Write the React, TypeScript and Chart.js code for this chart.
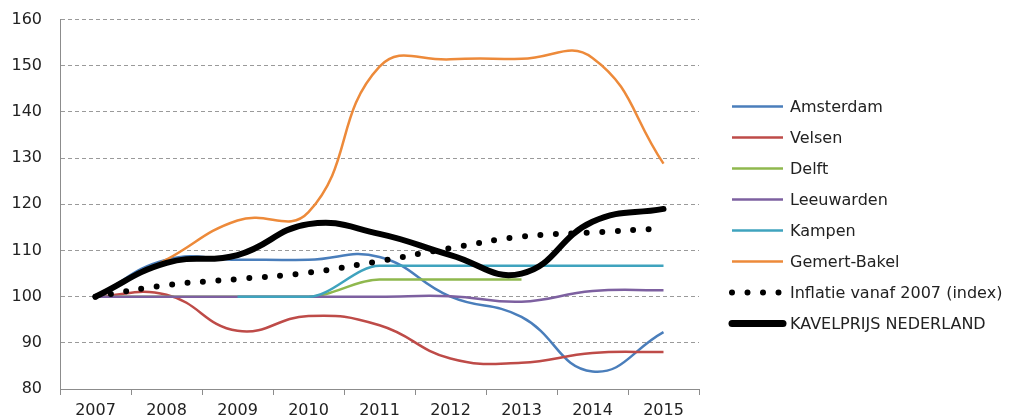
import React, { useEffect, useRef } from "react";
import { Chart, registerables, ChartConfiguration, Plugin } from "chart.js";

Chart.register(...registerables);

const years = ["2007", "2008", "2009", "2010", "2011", "2012", "2013", "2014", "2015"];

const amsterdam = [100, 108, 108, 108, 108.6, 100, 95.6, 83.8, 92.3];
const velsen = [100, 100.4, 92.6, 95.8, 93.8, 86.6, 85.7, 87.8, 88];
const delft = [100, 100, 100, 100, 103.7, 103.7, 103.7, null, null];
const leeuwarden = [100, 100, 100, 100, 100, 100.1, 98.9, 101.2, 101.4];
const kampen = [null, null, 100, 100, 106.7, 106.7, 106.7, 106.7, 106.7];
const gemertBakel = [100, 108, 116.5, 118.3, 149.8, 151.4, 151.5, 151.7, 128.8];
const inflatie = [100, 102.5, 103.8, 105.2, 107.7, 110.5, 113, 113.9, 114.8];
const kavelprijs = [100, 107.3, 109, 115.7, 113.6, 109, 105, 116.2, 119];

const yTicks = [80, 90, 100, 110, 120, 130, 140, 150, 160];

const FONT = "'DejaVu Sans', Verdana, sans-serif";

// legenda rechts, zoals in Excel (lijnstukje + tekst)
const sideLegend: Plugin<"line"> = {
  id: "sideLegend",
  afterDraw(chart) {
    const { ctx, chartArea } = chart;
    const x0 = chartArea.right + 33;
    const y0 = chartArea.top + 87;
    const row = 31;
    chart.data.datasets.forEach((ds: any, i) => {
      const y = y0 + i * row;
      ctx.save();
      ctx.strokeStyle = ds.borderColor;
      ctx.lineWidth = ds.legendWidth ?? ds.borderWidth;
      ctx.lineCap = ds.borderCapStyle ?? "butt";
      ctx.setLineDash(ds.borderDash ?? []);
      ctx.beginPath();
      ctx.moveTo(x0, y);
      ctx.lineTo(x0 + 51, y);
      ctx.stroke();
      ctx.setLineDash([]);
      ctx.fillStyle = "#222";
      ctx.font = `16px ${FONT}`;
      ctx.textBaseline = "middle";
      ctx.fillText(ds.label, x0 + 58, y + 1);
      ctx.restore();
    });
  },
};

export default function App() {
  const chartRef = useRef<HTMLCanvasElement | null>(null);

  useEffect(() => {
    document.body.style.margin = "0";
    if (!chartRef.current) return;
    const ctx = chartRef.current.getContext("2d");
    if (!ctx) return;

    const n = 8;
    const line = (label: string, data: (number | null)[], color: string, i: number, extra: any = {}) => ({
      label,
      data,
      borderColor: color,
      backgroundColor: color,
      borderWidth: 2.5,
      pointRadius: 0,
      fill: false,
      tension: 0.45,
      order: n - i,
      ...extra,
    });

    const config: ChartConfiguration<"line"> = {
      type: "line",
      data: {
        labels: years,
        datasets: [
          line("Amsterdam", amsterdam, "#4a7ebb", 0),
          line("Velsen", velsen, "#be4b48", 1),
          line("Delft", delft, "#8fb84e", 2, { cubicInterpolationMode: "monotone" }),
          line("Leeuwarden", leeuwarden, "#7d60a0", 3),
          line("Kampen", kampen, "#3fa3be", 4, { cubicInterpolationMode: "monotone" }),
          line("Gemert-Bakel", gemertBakel, "#ed8a3a", 5),
          line("Inflatie vanaf 2007 (index)", inflatie, "#000000", 6, {
            borderWidth: 6,
            borderDash: [0, 15.5],
            borderCapStyle: "round",
            tension: 0.4,
          }),
          line("KAVELPRIJS NEDERLAND", kavelprijs, "#000000", 7, {
            borderWidth: 6,
            borderCapStyle: "round",
            legendWidth: 7,
          }),
        ] as any,
      },
      options: {
        animation: false,
        responsive: true,
        maintainAspectRatio: false,
        layout: {
          padding: { left: 10, top: 0, right: 312, bottom: 0 },
        },
        plugins: {
          legend: { display: false },
          tooltip: { enabled: false },
        },
        scales: {
          x: {
            offset: true,
            afterFit: (scale) => {
              scale.height = 28;
            },
            grid: {
              offset: true,
              drawOnChartArea: false,
              drawTicks: true,
              tickLength: 6,
              color: "#8c8c8c",
            },
            border: { display: true, color: "#8c8c8c", width: 1 },
            ticks: {
              color: "#222",
              font: { family: FONT, size: 16 },
              padding: 6,
              maxRotation: 0,
            },
          },
          y: {
            min: yTicks[0],
            max: yTicks[yTicks.length - 1],
            afterBuildTicks: (scale) => {
              scale.ticks = yTicks.map((v) => ({ value: v }));
            },
            afterFit: (scale) => {
              scale.width = 50;
            },
            grid: {
              drawTicks: true,
              tickLength: 8,
              tickColor: "rgba(0,0,0,0)",
              color: "#9a9a9a",
            },
            border: { display: true, color: "#8c8c8c", width: 1, dash: [4, 3] },
            ticks: {
              color: "#222",
              font: { family: FONT, size: 16 },
              padding: 10,
            },
          },
        },
      },
      plugins: [sideLegend],
    };

    const chart = new Chart(ctx, config);
    return () => {
      chart.destroy();
    };
  }, []);

  return (
    <div style={{ position: "relative", width: 1011, height: 417, background: "#fff" }}>
      <canvas ref={chartRef} />
    </div>
  );
}
